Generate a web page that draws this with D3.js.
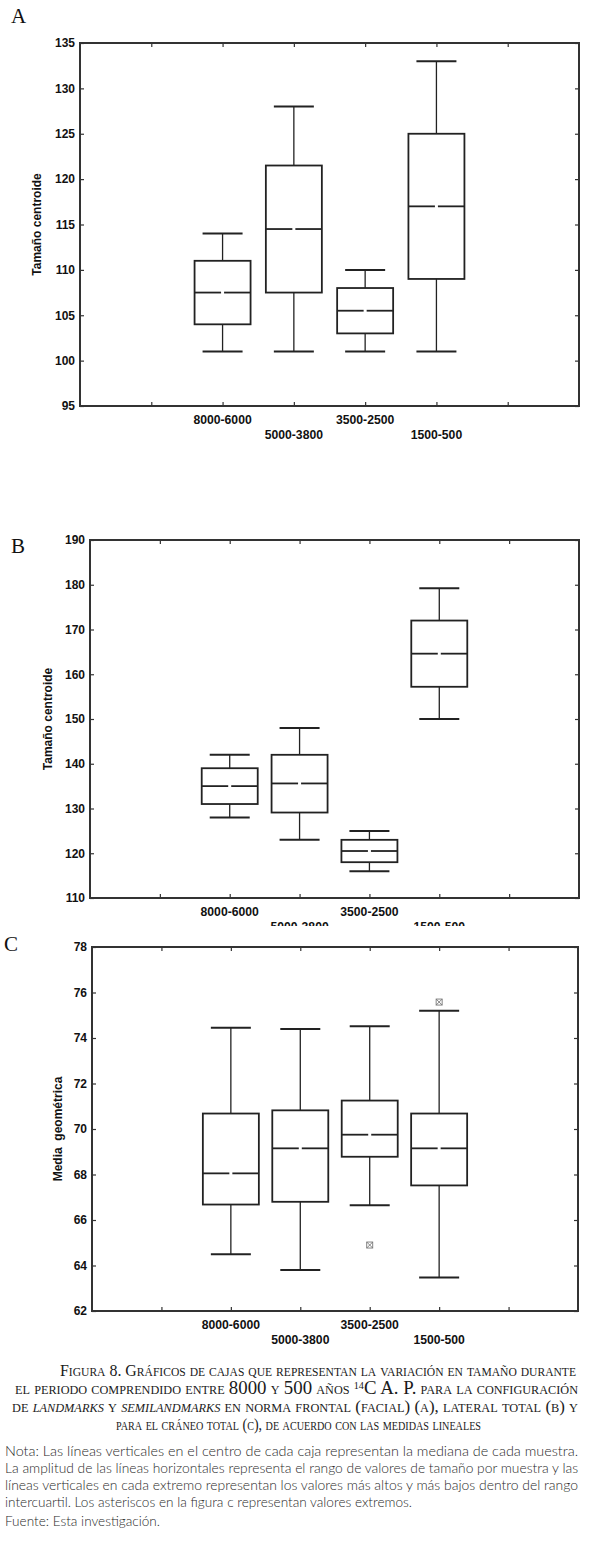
<!DOCTYPE html>
<html>
<head>
<meta charset="utf-8">
<script src="https://cdn.jsdelivr.net/npm/d3@7"></script>
<style>
  html, body { margin: 0; padding: 0; background: #fff; }
  svg { display: block; }
</style>
</head>
<body>
<svg id="chart" width="612" height="1548"></svg>
<script>
// ---------------- DATA ----------------
const categories = ["8000-6000", "5000-3800", "3500-2500", "1500-500"];

// Panel A – Tamaño centroide (norma frontal)
const aMin = [101, 101, 101, 101];
const aQ1  = [104, 107.5, 103, 109];
const aMed = [107.5, 114.5, 105.5, 117];
const aQ3  = [111, 121.5, 108, 125];
const aMax = [114, 128, 110, 133];
const aTicks = [95, 100, 105, 110, 115, 120, 125, 130, 135];

// Panel B – Tamaño centroide (lateral total)
const bMin = [128, 123, 116, 150];
const bQ1  = [131, 129.1, 118, 157.2];
const bMed = [135, 135.6, 120.5, 164.6];
const bQ3  = [139, 142, 123, 172];
const bMax = [142, 148, 125, 179.2];
const bTicks = [110, 120, 130, 140, 150, 160, 170, 180, 190];

// Panel C – Media geométrica (cráneo total)
const cMin = [64.5, 63.8, 66.65, 63.47];
const cQ1  = [66.68, 66.8, 68.78, 67.52];
const cMed = [68.05, 69.15, 69.75, 69.15];
const cQ3  = [70.68, 70.82, 71.25, 70.68];
const cMax = [74.45, 74.4, 74.52, 75.2];
const cOutliers = [[], [], [64.9], [75.58]];
const cTicks = [62, 64, 66, 68, 70, 72, 74, 76, 78];

// ---------------- DRAWING ----------------
const svg = d3.select("#chart");

function panel(opt) {
  const g = svg.append("g");
  if (opt.clipBottom) {
    const id = "clip" + opt.letter;
    svg.append("defs").append("clipPath").attr("id", id)
      .append("rect").attr("x", 0).attr("y", 0).attr("width", 612).attr("height", opt.clipBottom);
    g.attr("clip-path", `url(#${id})`);
  }
  const x = d3.scaleLinear().domain([0, categories.length + 3]).range([opt.left, opt.right]);
  const y = d3.scaleLinear().domain([opt.ticks[0], opt.ticks[opt.ticks.length - 1]]).range([opt.bottom, opt.top]);

  // panel letter
  svg.append("text").attr("x", opt.letterX).attr("y", opt.letterY)
    .attr("font-family", "Liberation Serif, serif").attr("font-size", 21)
    .attr("fill", "#111").text(opt.letter);

  // left axis with labels
  const yl = g.append("g").attr("transform", `translate(${opt.left},0)`)
    .call(d3.axisLeft(y).tickValues(opt.ticks).tickSizeInner(-4).tickSizeOuter(0).tickPadding(5));
  yl.select(".domain").remove();
  yl.selectAll("text").attr("font-family", "Liberation Sans, Arial, sans-serif")
    .attr("font-weight", "bold").attr("font-size", 12).attr("fill", "#111");
  yl.selectAll("line").attr("stroke", "#333").attr("stroke-width", 1.2);

  // right axis ticks
  const yr = g.append("g").attr("transform", `translate(${opt.right},0)`)
    .call(d3.axisRight(y).tickValues(opt.ticks).tickSizeInner(-4).tickSizeOuter(0).tickFormat(""));
  yr.select(".domain").remove();
  yr.selectAll("line").attr("stroke", "#333").attr("stroke-width", 1.2);

  // top/bottom ticks
  const slotTicks = d3.range(1, categories.length + 3);
  const xb = g.append("g").attr("transform", `translate(0,${opt.bottom})`)
    .call(d3.axisBottom(x).tickValues(slotTicks).tickSizeInner(-4).tickSizeOuter(0).tickFormat(""));
  xb.select(".domain").remove();
  xb.selectAll("line").attr("stroke", "#333").attr("stroke-width", 1.2);
  const xt = g.append("g").attr("transform", `translate(0,${opt.top})`)
    .call(d3.axisTop(x).tickValues(slotTicks).tickSizeInner(-4).tickSizeOuter(0).tickFormat(""));
  xt.select(".domain").remove();
  xt.selectAll("line").attr("stroke", "#333").attr("stroke-width", 1.2);

  // frame
  g.append("rect").attr("x", opt.left).attr("y", opt.top)
    .attr("width", opt.right - opt.left).attr("height", opt.bottom - opt.top)
    .attr("fill", "none").attr("stroke", "#333").attr("stroke-width", 2);

  // y title
  g.append("text")
    .attr("transform", `translate(${opt.titleX},${(opt.top + opt.bottom) / 2}) rotate(-90)`)
    .attr("text-anchor", "middle")
    .attr("font-family", "Liberation Sans, Arial, sans-serif")
    .attr("font-weight", "bold").attr("font-size", 12).attr("fill", "#111")
    .attr("xml:space", "preserve")
    .text(opt.title);

  // category labels (alternating rows)
  g.selectAll("text.cat").data(categories).join("text").attr("class", "cat")
    .attr("x", (d, i) => x(i + 2))
    .attr("y", (d, i) => opt.bottom + (i % 2 === 0 ? 18 : 33))
    .attr("text-anchor", "middle")
    .attr("font-family", "Liberation Sans, Arial, sans-serif")
    .attr("font-weight", "bold").attr("font-size", 12.2).attr("fill", "#111")
    .text(d => d);

  const boxW = 56, capW = 40;
  const data = categories.map((c, i) => ({
    i, min: opt.min[i], q1: opt.q1[i], med: opt.med[i], q3: opt.q3[i], max: opt.max[i],
    out: opt.out ? opt.out[i] : []
  }));
  const bx = g.selectAll("g.box").data(data).join("g").attr("class", "box");
  const cx = d => x(d.i + 2);

  // whiskers
  bx.append("line").attr("x1", cx).attr("x2", cx)
    .attr("y1", d => y(d.max)).attr("y2", d => y(d.q3))
    .attr("stroke", "#222").attr("stroke-width", 1.3);
  bx.append("line").attr("x1", cx).attr("x2", cx)
    .attr("y1", d => y(d.q1)).attr("y2", d => y(d.min))
    .attr("stroke", "#222").attr("stroke-width", 1.3);
  // caps
  bx.append("line").attr("x1", d => cx(d) - capW / 2).attr("x2", d => cx(d) + capW / 2)
    .attr("y1", d => y(d.max)).attr("y2", d => y(d.max))
    .attr("stroke", "#222").attr("stroke-width", 2);
  bx.append("line").attr("x1", d => cx(d) - capW / 2).attr("x2", d => cx(d) + capW / 2)
    .attr("y1", d => y(d.min)).attr("y2", d => y(d.min))
    .attr("stroke", "#222").attr("stroke-width", 2);
  // box
  bx.append("rect").attr("x", d => cx(d) - boxW / 2).attr("width", boxW)
    .attr("y", d => y(d.q3)).attr("height", d => y(d.q1) - y(d.q3))
    .attr("fill", "#fff").attr("stroke", "#222").attr("stroke-width", 1.8);
  // median (with small gap in centre)
  bx.append("line").attr("x1", d => cx(d) - boxW / 2).attr("x2", d => cx(d) - 1.5)
    .attr("y1", d => y(d.med)).attr("y2", d => y(d.med))
    .attr("stroke", "#222").attr("stroke-width", 1.8);
  bx.append("line").attr("x1", d => cx(d) + 1.5).attr("x2", d => cx(d) + boxW / 2)
    .attr("y1", d => y(d.med)).attr("y2", d => y(d.med))
    .attr("stroke", "#222").attr("stroke-width", 1.8);

  // outliers
  data.forEach(d => {
    d.out.forEach(v => {
      const px = cx(d), py = y(v), s = 3;
      const og = g.append("g").attr("stroke", "#777").attr("stroke-width", 0.9).attr("fill", "none");
      og.append("rect").attr("x", px - s).attr("y", py - s).attr("width", 2 * s).attr("height", 2 * s);
      og.append("line").attr("x1", px - s).attr("y1", py - s).attr("x2", px + s).attr("y2", py + s);
      og.append("line").attr("x1", px + s).attr("y1", py - s).attr("x2", px - s).attr("y2", py + s);
    });
  });
}

panel({ letter: "A", letterX: 11, letterY: 23, left: 80, right: 579, top: 43, bottom: 406,
  ticks: aTicks, min: aMin, q1: aQ1, med: aMed, q3: aQ3, max: aMax,
  title: "Tamaño centroide", titleX: 41 });

panel({ letter: "B", letterX: 11, letterY: 553, left: 90, right: 579, top: 540, bottom: 898,
  ticks: bTicks, min: bMin, q1: bQ1, med: bMed, q3: bQ3, max: bMax,
  title: "Tamaño centroide", titleX: 52, clipBottom: 926 });

panel({ letter: "C", letterX: 4, letterY: 951, left: 92, right: 578, top: 947, bottom: 1311,
  ticks: cTicks, min: cMin, q1: cQ1, med: cMed, q3: cQ3, max: cMax, out: cOutliers,
  title: "Media  geométrica", titleX: 62 });

// ---------------- CAPTION ----------------
const capFont = "Liberation Serif, 'DejaVu Serif', serif";
function capLine(yy, parts, x1, x2) {
  const t = svg.append("text").attr("x", (x1 + x2) / 2).attr("y", yy)
    .attr("text-anchor", "middle")
    .attr("font-family", capFont).attr("font-size", 16.5).attr("fill", "#1a1a1a")
    .style("font-variant", "small-caps")
    .attr("textLength", x2 - x1).attr("lengthAdjust", "spacingAndGlyphs");
  parts.forEach(p => {
    const ts = t.append("tspan").text(p.t);
    if (p.i) ts.attr("font-style", "italic");
    if (p.sup) ts.attr("font-size", 10).attr("baseline-shift", "super");
    if (p.big) ts.attr("font-size", 18.5);
  });
}
capLine(1376, [{ t: "Figura 8. Gráficos de cajas que representan la variación en tamaño durante" }], 60, 576);
capLine(1394, [{ t: "el periodo comprendido entre " }, { t: "8000", big: 1 }, { t: " y " }, { t: "500", big: 1 },
  { t: " años " }, { t: "14", sup: 1 }, { t: "C A. P.", big: 1 }, { t: " para la configuración" }], 15, 578);
capLine(1412, [{ t: "de " }, { t: "landmarks", i: 1 }, { t: " y " }, { t: "semilandmarks", i: 1 },
  { t: " en norma frontal (facial) (a), lateral total (b) y" }], 12, 578);
capLine(1430, [{ t: "para el cráneo total (c), de acuerdo con las medidas lineales" }], 116, 481);

const notaFont = "Lato, 'Open Sans', sans-serif";
function notaLine(yy, text, x2) {
  const t = svg.append("text").attr("x", 5).attr("y", yy)
    .attr("font-family", notaFont).attr("font-weight", 300).attr("font-size", 14)
    .attr("fill", "#2a2a2a").text(text);
  if (x2) t.attr("textLength", x2 - 5).attr("lengthAdjust", "spacingAndGlyphs");
}
notaLine(1456, "Nota: Las líneas verticales en el centro de cada caja representan la mediana de cada muestra.", 578);
notaLine(1473, "La amplitud de las líneas horizontales representa el rango de valores de tamaño por muestra y las", 578);
notaLine(1490, "líneas verticales en cada extremo representan los valores más altos y más bajos dentro del rango", 578);
notaLine(1507, "intercuartil. Los asteriscos en la figura c representan valores extremos.", 412);
notaLine(1526, "Fuente: Esta investigación.", 160);
</script>
</body>
</html>
